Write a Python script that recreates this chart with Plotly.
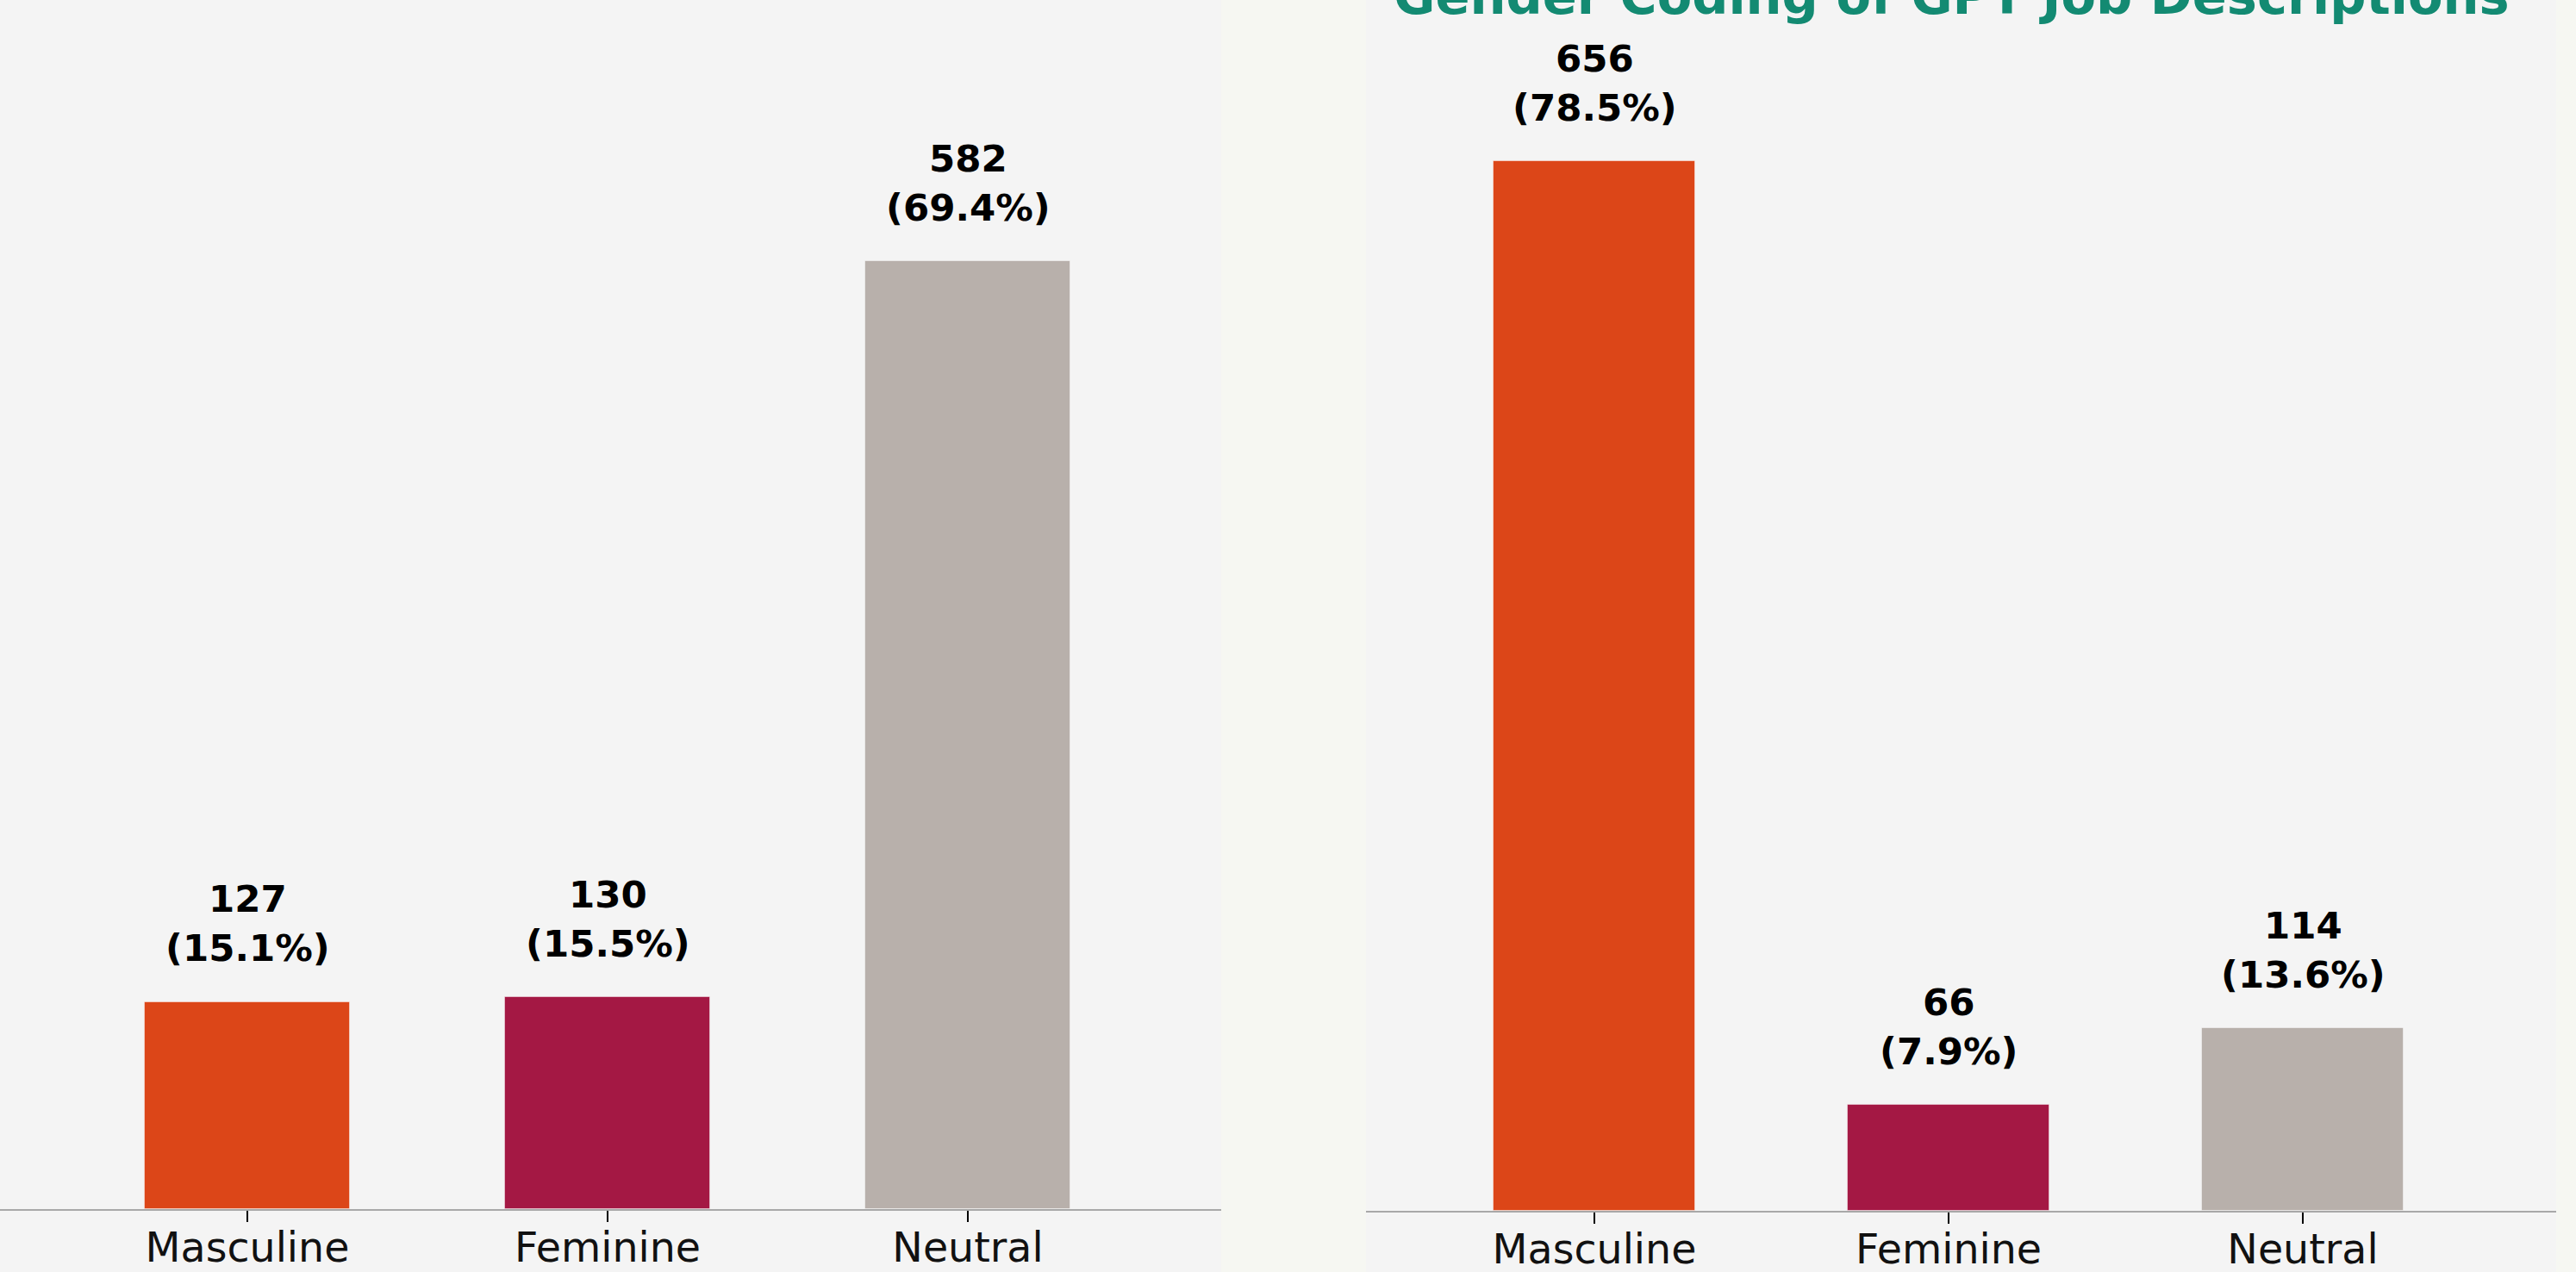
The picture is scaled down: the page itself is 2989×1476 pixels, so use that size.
import plotly.graph_objects as go

categories = ["Masculine", "Feminine", "Neutral"]
left_counts = [127, 130, 582]
left_pct = [15.1, 15.5, 69.4]
right_counts = [656, 66, 114]
right_pct = [78.5, 7.9, 13.6]
bar_colors = ["#DC4618", "#A41844", "#B8B0AB"]
title_right = "Gender Coding of GPT Job Descriptions"

W, H = 2989, 1476
FONT = "DejaVu Sans"

fig = go.Figure()

fig.add_trace(go.Bar(x=categories, y=left_counts, width=0.57,
                     marker=dict(color=bar_colors, line=dict(color="rgba(255,255,255,0.45)", width=1)),
                     xaxis="x", yaxis="y", showlegend=False, hoverinfo="skip"))
fig.add_trace(go.Bar(x=categories, y=right_counts, width=0.57,
                     marker=dict(color=bar_colors, line=dict(color="rgba(255,255,255,0.45)", width=1)),
                     xaxis="x2", yaxis="y2", showlegend=False, hoverinfo="skip"))

annotations = []
for xr, yr, counts, pcts in (("x", "y", left_counts, left_pct), ("x2", "y2", right_counts, right_pct)):
    for c, v, p in zip(categories, counts, pcts):
        annotations.append(dict(x=c, y=v, xref=xr, yref=yr, text=f"{v}<br>({p:.1f}%)",
                                showarrow=False, yanchor="middle", yshift=91,
                                font=dict(family=FONT, size=43.5, color="#000000", weight="bold")))

annotations.append(dict(x=2264 / W, y=1, xref="paper", yref="paper", text=title_right,
                        showarrow=False, xanchor="center", yanchor="middle", yshift=5,
                        font=dict(family=FONT, size=59, color="#138A72", weight="bold")))

xcommon = dict(type="category", showgrid=False, zeroline=False, showline=True,
               linecolor="#A8A8A8", linewidth=2, ticks="outside", ticklen=13,
               tickwidth=1.5, tickcolor="#000000", fixedrange=True, automargin=False,
               ticklabelstandoff=-11,
               tickfont=dict(family=FONT, size=47.5, color="#111111"))
ycommon = dict(visible=False, showgrid=False, zeroline=False, fixedrange=True, automargin=False)

fig.update_layout(
    width=W, height=H,
    margin=dict(l=0, r=0, t=0, b=0, autoexpand=False),
    paper_bgcolor="#F4F4F4",
    plot_bgcolor="#F4F4F4",
    bargap=0,
    xaxis=dict(domain=[0, 1417 / W], range=[-287 / 418, (1417 - 287) / 418], anchor="y", **xcommon),
    yaxis=dict(domain=[(H - 1403) / H, 1], range=[0, 1403 / 1100 * 582], anchor="x", **ycommon),
    xaxis2=dict(domain=[1585 / W, 2966 / W], range=[(1585 - 1850) / 411, (2966 - 1850) / 411], anchor="y2", **xcommon),
    yaxis2=dict(domain=[(H - 1405) / H, 1], range=[0, 1405 / 1218 * 656], anchor="x2", **ycommon),
    annotations=annotations,
    shapes=[
        dict(type="rect", xref="paper", yref="paper", x0=1417 / W, x1=1585 / W, y0=0, y1=1,
             fillcolor="#F6F7F2", line=dict(width=0), layer="below"),
        dict(type="rect", xref="paper", yref="paper", x0=2966 / W, x1=1, y0=0, y1=1,
             fillcolor="#F6F7F2", line=dict(width=0), layer="below"),
    ],
)

fig.write_html("out.html")
